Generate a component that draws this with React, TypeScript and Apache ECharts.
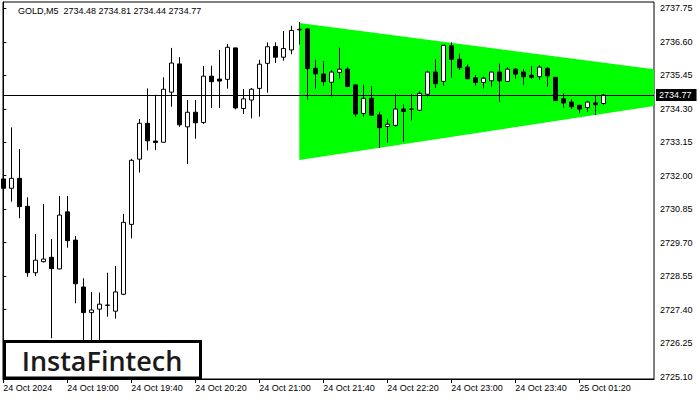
import React, { useEffect, useRef } from "react";
import * as echarts from "echarts";

// OHLC values of the GOLD M5 candles, one entry per 5-minute bar (index 0 = 24 Oct 18:20)
const opens = [
  2731.89, 2731.57, 2731.91, 2730.95, 2728.67, 2729.05, 2729.20, 2728.80, 2730.76, 2729.79,
  2728.18, 2727.30, 2727.42, 2727.55, 2727.35, 2727.93, 2730.33, 2732.57, 2733.80, 2733.19,
  2733.15, 2734.87, 2735.84, 2733.68, 2734.18, 2733.83, 2735.42, 2735.32, 2735.31, 2736.39,
  2734.31, 2734.60, 2735.00, 2735.86, 2736.44, 2736.07, 2736.32, 2737.01, 2737.04, 2735.69,
  2735.49, 2735.21, 2735.55, 2735.66, 2735.12, 2734.14, 2734.66, 2734.09, 2733.69, 2733.73,
  2734.29, 2734.28, 2734.25, 2734.80, 2735.56, 2735.24, 2736.46, 2736.00, 2735.73, 2735.36,
  2735.20, 2735.26, 2735.56, 2735.24, 2735.66, 2735.56, 2735.45, 2735.40, 2735.69, 2735.38,
  2734.64, 2734.53, 2734.42, 2734.34, 2734.50, 2734.48,
];
const highs = [
  2733.06, 2733.66, 2732.92, 2731.26, 2730.00, 2731.03, 2729.83, 2731.31, 2731.31, 2729.93,
  2728.48, 2728.01, 2727.99, 2728.67, 2728.90, 2730.69, 2732.58, 2733.95, 2735.00, 2734.78,
  2735.38, 2736.39, 2736.07, 2734.60, 2734.60, 2735.77, 2735.78, 2736.32, 2736.52, 2736.40,
  2734.98, 2735.01, 2735.98, 2736.58, 2736.58, 2736.97, 2737.15, 2737.28, 2737.06, 2735.98,
  2735.94, 2735.63, 2736.40, 2735.73, 2735.12, 2735.12, 2735.08, 2734.20, 2733.93, 2734.80,
  2734.45, 2734.80, 2734.90, 2735.60, 2736.00, 2736.49, 2736.58, 2736.19, 2735.82, 2735.46,
  2735.40, 2735.57, 2735.85, 2735.73, 2735.69, 2735.66, 2735.77, 2735.80, 2735.73, 2735.39,
  2734.83, 2734.63, 2734.42, 2734.57, 2734.74, 2734.81,
];
const lows = [
  2729.85, 2731.11, 2730.54, 2728.53, 2728.56, 2729.02, 2726.42, 2728.79, 2729.53, 2727.62,
  2726.09, 2725.95, 2726.19, 2727.16, 2727.09, 2727.90, 2729.85, 2732.11, 2732.87, 2732.88,
  2733.15, 2734.37, 2733.68, 2732.40, 2733.27, 2733.78, 2734.33, 2734.33, 2734.99, 2734.28,
  2734.12, 2733.97, 2734.03, 2734.85, 2735.87, 2735.95, 2736.17, 2736.51, 2734.61, 2734.99,
  2735.09, 2734.72, 2735.34, 2735.04, 2734.03, 2734.03, 2734.06, 2732.96, 2733.14, 2733.69,
  2733.17, 2733.90, 2734.23, 2734.72, 2735.01, 2735.10, 2735.37, 2735.63, 2735.32, 2735.09,
  2735.00, 2735.06, 2734.54, 2735.23, 2735.33, 2735.12, 2735.33, 2735.29, 2735.06, 2734.58,
  2734.34, 2734.29, 2734.14, 2734.19, 2734.09, 2734.44,
];
const closes = [
  2731.57, 2731.91, 2730.94, 2728.67, 2729.10, 2729.14, 2728.81, 2730.65, 2729.77, 2728.29,
  2727.30, 2727.39, 2727.59, 2727.56, 2728.01, 2730.40, 2732.53, 2733.80, 2733.20, 2733.14,
  2734.97, 2735.87, 2733.75, 2734.18, 2733.82, 2735.42, 2735.23, 2735.25, 2736.41, 2734.33,
  2734.64, 2734.97, 2735.83, 2736.43, 2736.07, 2736.37, 2736.99, 2737.03, 2735.68, 2735.50,
  2735.23, 2735.56, 2735.66, 2735.07, 2734.12, 2734.66, 2734.08, 2733.65, 2733.77, 2734.29,
  2734.21, 2734.29, 2734.83, 2735.56, 2735.16, 2736.48, 2736.00, 2735.71, 2735.33, 2735.20,
  2735.35, 2735.56, 2735.26, 2735.66, 2735.49, 2735.40, 2735.38, 2735.73, 2735.43, 2734.58,
  2734.50, 2734.37, 2734.29, 2734.53, 2734.44, 2734.77,
];

// time axis: bar index of each labelled tick and its text
const xTickIndex = [0, 8, 16, 24, 32, 40, 48, 56, 64, 72];
const xTickLabels = [
  "24 Oct 2024", "24 Oct 19:00", "24 Oct 19:40", "24 Oct 20:20", "24 Oct 21:00",
  "24 Oct 21:40", "24 Oct 22:20", "24 Oct 23:00", "24 Oct 23:40", "25 Oct 01:20",
];
// price axis ticks
const yTickValues = [
  2725.10, 2726.25, 2727.40, 2728.55, 2729.70, 2730.85,
  2732.00, 2733.15, 2734.30, 2735.45, 2736.60, 2737.75,
];
const lastPrice = 2734.77;
const headerText = "GOLD,M5  2734.48 2734.81 2734.44 2734.77";

// symmetrical triangle pattern (bar index, price) vertices
const triangleX = [37, 97.6, 37];
const triangleY = [2737.245, 2735.075, 2732.541];

export default function App() {
  const ref = useRef<HTMLDivElement>(null);
  useEffect(() => {
    const chart = echarts.init(ref.current!, null, { renderer: "svg" });
    const candles = opens.map((o, i) => [i, o, closes[i], lows[i], highs[i]]);
    const font = "'Liberation Sans', Arial, sans-serif";
    chart.setOption({
      animation: false,
      backgroundColor: "#ffffff",
      textStyle: { fontFamily: font },
      grid: {
        left: 3,
        top: 2,
        right: 46,
        bottom: 21,
        show: true,
        borderColor: "#000",
        borderWidth: 1,
        backgroundColor: "#fff",
      },
      xAxis: {
        type: "value",
        min: -0.0375,
        max: 81.34,
        splitLine: { show: false },
        axisLine: { show: true, lineStyle: { color: "#000", width: 1 } },
        axisTick: {
          show: true,
          customValues: xTickIndex,
          length: 4,
          lineStyle: { color: "#000" },
        },
        axisLabel: {
          customValues: xTickIndex,
          formatter: (v: number) => {
            const k = xTickIndex.indexOf(Math.round(v));
            return k >= 0 ? xTickLabels[k] : "";
          },
          align: "left",
          margin: 4,
          fontSize: 9,
          color: "#000",
          fontFamily: font,
        },
      },
      yAxis: {
        type: "value",
        position: "right",
        min: 2725.021,
        max: 2737.966,
        splitLine: { show: false },
        axisLine: { show: true, lineStyle: { color: "#000", width: 1 } },
        axisTick: {
          show: true,
          customValues: yTickValues,
          length: 3,
          lineStyle: { color: "#000" },
        },
        axisLabel: {
          customValues: yTickValues,
          formatter: (v: number) => v.toFixed(2),
          margin: 6,
          fontSize: 9,
          color: "#000",
          fontFamily: font,
        },
      },
      series: [
        {
          type: "custom",
          clip: true,
          silent: true,
          z: 1,
          data: [[triangleX[0], triangleY[0]]],
          renderItem: (_params: any, api: any) => {
            const pts = triangleX.map((x, i) => api.coord([x, triangleY[i]]));
            return {
              type: "polygon",
              shape: { points: pts },
              style: { fill: "#00ff00", stroke: null },
            };
          },
        },
        {
          type: "candlestick",
          z: 3,
          barWidth: 5,
          silent: true,
          data: candles,
          itemStyle: {
            color: "#ffffff",
            color0: "#000000",
            borderColor: "#000000",
            borderColor0: "#000000",
            borderColorDoji: "#000000",
            borderWidth: 1,
          },
          markLine: {
            silent: true,
            symbol: "none",
            animation: false,
            lineStyle: { color: "#000", width: 1, type: "solid" },
            label: {
              show: true,
              position: "end",
              formatter: lastPrice.toFixed(2),
              color: "#fff",
              backgroundColor: "#000",
              padding: [2, 5, 1, 3],
              fontSize: 9,
              distance: 2,
              fontFamily: font,
            },
            emphasis: { disabled: true },
            data: [{ yAxis: lastPrice }],
          },
        },
      ],
      graphic: [
        {
          type: "text",
          x: 18,
          y: 11,
          z: 50,
          style: {
            text: headerText,
            fontSize: 9,
            fontFamily: font,
            fill: "#000",
            verticalAlign: "middle",
          },
        },
        {
          type: "rect",
          z: 100,
          shape: { x: 4.5, y: 341.5, width: 196, height: 36.5 },
          style: { fill: "#fff", stroke: "#000", lineWidth: 3 },
        },
        {
          type: "text",
          z: 101,
          x: 102,
          y: 360,
          style: {
            text: "InstaFintech",
            fontSize: 27,
            fontWeight: 600,
            fontFamily: "'Open Sans', 'Noto Sans', sans-serif",
            fill: "#1a1a1a",
            align: "center",
            verticalAlign: "middle",
          },
        },
      ],
    });
    return () => chart.dispose();
  }, []);
  return (
    <div
      ref={ref}
      style={{ width: 700, height: 400, position: "absolute", left: 0, top: 0 }}
    />
  );
}
